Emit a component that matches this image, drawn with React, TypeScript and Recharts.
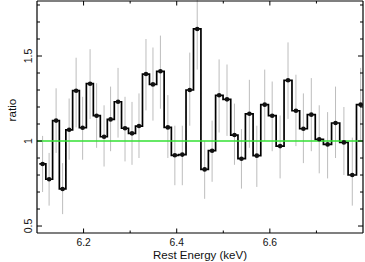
import React from 'react';
import { ComposedChart, Line, Scatter, ErrorBar, XAxis, YAxis, ReferenceLine } from 'recharts';

const energies = [6.112, 6.126, 6.141, 6.155, 6.169, 6.184, 6.198, 6.214, 6.228, 6.244, 6.258, 6.274, 6.289, 6.304, 6.319, 6.334, 6.349, 6.365, 6.381, 6.396, 6.412, 6.428, 6.444, 6.46, 6.476, 6.491, 6.508, 6.524, 6.539, 6.556, 6.572, 6.589, 6.605, 6.622, 6.639, 6.656, 6.672, 6.689, 6.706, 6.724, 6.741, 6.759, 6.777, 6.795];
const ratios = [0.865, 0.775, 1.12, 0.718, 1.066, 1.296, 1.078, 1.337, 1.149, 1.025, 1.127, 1.231, 1.075, 1.045, 1.088, 1.394, 1.333, 1.41, 1.08, 0.916, 0.92, 1.3, 1.659, 0.833, 0.943, 1.269, 1.245, 1.035, 0.896, 1.16, 0.914, 1.214, 1.149, 0.97, 1.357, 1.178, 1.072, 1.155, 1.01, 0.98, 1.106, 0.992, 0.8, 1.214];
const errLow = [0.7, 0.62, 0.93, 0.57, 0.89, 1.08, 0.89, 1.13, 0.96, 0.85, 0.94, 1.02, 0.88, 0.86, 0.9, 1.18, 1.12, 1.19, 0.9, 0.74, 0.74, 1.09, 1.42, 0.66, 0.76, 1.05, 1.03, 0.86, 0.72, 0.96, 0.73, 1.0, 0.94, 0.78, 1.13, 0.97, 0.87, 0.94, 0.81, 0.78, 0.9, 0.8, 0.62, 1.0];
const errHigh = [1.03, 0.93, 1.31, 0.87, 1.25, 1.49, 1.26, 1.54, 1.34, 1.21, 1.32, 1.43, 1.26, 1.23, 1.28, 1.6, 1.55, 1.62, 1.27, 1.09, 1.09, 1.52, 1.83, 1.0, 1.12, 1.48, 1.45, 1.22, 1.07, 1.36, 1.09, 1.42, 1.35, 1.15, 1.58, 1.39, 1.28, 1.37, 1.21, 1.17, 1.32, 1.2, 1.02, 1.43];

const xTicks = [6.2, 6.3, 6.4, 6.5, 6.6, 6.7];
const xTickLabels = ['6.2', '', '6.4', '', '6.6', ''];
const yTicks = [0.5, 0.6, 0.7, 0.8, 0.9, 1.0, 1.1, 1.2, 1.3, 1.4, 1.5, 1.6, 1.7, 1.8];
const yTickLabels = ['0.5', '', '', '', '', '1', '', '', '', '', '1.5', '', '', ''];
const xDomain = [6.1, 6.8];
const yDomain = [0.459, 1.8235];
const xTitle = 'Rest Energy (keV)';
const yTitle = 'ratio';

const FONT = '"Liberation Sans", Arial, Helvetica, sans-serif';

const points = energies.map((x, i) => ({
  x,
  y: ratios[i],
  err: [ratios[i] - errLow[i], errHigh[i] - ratios[i]],
}));

const n = energies.length;
const stepData = [
  { x: energies[0] - (energies[1] - energies[0]) / 2, y: ratios[0] },
  ...energies.map((x, i) => ({ x, y: ratios[i] })),
  { x: energies[n - 1] + (energies[n - 1] - energies[n - 2]) / 2, y: ratios[n - 1] },
];

const findIdx = (arr: number[], v: number) => arr.findIndex((t) => Math.abs(t - v) < 1e-6);

const BottomTick = (props: any) => {
  const { x, y, payload } = props;
  const i = findIdx(xTicks, payload.value);
  const label = i >= 0 ? xTickLabels[i] : '';
  const major = label !== '';
  return (
    <g>
      <line x1={x} x2={x} y1={y} y2={y - (major ? 4.5 : 2.5)} stroke="#000" strokeWidth={1} />
      {major && (
        <text x={x} y={y + 13} textAnchor="middle" fontSize={10.3} fontFamily={FONT} fill="#111">
          {label}
        </text>
      )}
    </g>
  );
};

const TopTick = (props: any) => {
  const { x, y, payload } = props;
  const i = findIdx(xTicks, payload.value);
  const major = i >= 0 && xTickLabels[i] !== '';
  return <line x1={x} x2={x} y1={y} y2={y + (major ? 4.5 : 2.5)} stroke="#000" strokeWidth={1} />;
};

const LeftTick = (props: any) => {
  const { x, y, payload } = props;
  const i = findIdx(yTicks, payload.value);
  const label = i >= 0 ? yTickLabels[i] : '';
  const major = label !== '';
  return (
    <g>
      <line x1={x} x2={x + (major ? 5 : 3)} y1={y} y2={y} stroke="#000" strokeWidth={1} />
      {major && (
        <text
          x={x - 5}
          y={y}
          transform={`rotate(-90 ${x - 5} ${y})`}
          textAnchor="middle"
          fontSize={10.5}
          fontFamily={FONT}
          fill="#111"
        >
          {label}
        </text>
      )}
    </g>
  );
};

const RightTick = (props: any) => {
  const { x, y, payload } = props;
  const i = findIdx(yTicks, payload.value);
  const major = i >= 0 && yTickLabels[i] !== '';
  return <line x1={x} x2={x - (major ? 5 : 3)} y1={y} y2={y} stroke="#000" strokeWidth={1} />;
};

const Dot = (p: any) => <circle cx={p.cx} cy={p.cy} r={2.3} fill="#111" />;
const NoShape = () => <g />;

export default function App() {
  return (
    <div style={{ position: 'absolute', left: 0, top: 0, width: 365, height: 262, background: '#fff' }}>
      <ComposedChart width={365} height={262} margin={{ top: 0, right: 0, bottom: 0, left: 0 }}>
        <XAxis
          xAxisId="b"
          dataKey="x"
          type="number"
          domain={xDomain}
          allowDataOverflow
          ticks={xTicks}
          interval={0}
          tickSize={0}
          tickMargin={0}
          tickLine={false}
          tick={<BottomTick />}
          axisLine={{ stroke: '#000', strokeWidth: 1.2 }}
          height={29}
          orientation="bottom"
          label={{
            content: () => (
              <text x={200} y={259} textAnchor="middle" fontSize={11.5} fontFamily={FONT} fill="#111">
                {xTitle}
              </text>
            ),
          }}
        />
        <XAxis
          xAxisId="t"
          dataKey="x"
          type="number"
          domain={xDomain}
          allowDataOverflow
          ticks={xTicks}
          interval={0}
          tickSize={0}
          tickMargin={0}
          tickLine={false}
          tick={<TopTick />}
          axisLine={{ stroke: '#000', strokeWidth: 1.2 }}
          height={1}
          orientation="top"
        />
        <YAxis
          yAxisId="l"
          type="number"
          domain={yDomain}
          allowDataOverflow
          ticks={yTicks}
          interval={0}
          tickSize={0}
          tickMargin={0}
          tickLine={false}
          tick={<LeftTick />}
          axisLine={{ stroke: '#000', strokeWidth: 1.2 }}
          width={37}
          orientation="left"
          label={{
            content: () => (
              <text
                x={16}
                y={110}
                transform="rotate(-90 16 110)"
                textAnchor="middle"
                fontSize={11.7}
                fontFamily={FONT}
                fill="#111"
              >
                {yTitle}
              </text>
            ),
          }}
        />
        <YAxis
          yAxisId="r"
          type="number"
          domain={yDomain}
          allowDataOverflow
          ticks={yTicks}
          interval={0}
          tickSize={0}
          tickMargin={0}
          tickLine={false}
          tick={<RightTick />}
          axisLine={{ stroke: '#000', strokeWidth: 1.2 }}
          width={2}
          orientation="right"
        />
        <Scatter
          xAxisId="b"
          yAxisId="l"
          data={points}
          dataKey="y"
          shape={<NoShape />}
          isAnimationActive={false}
        >
          <ErrorBar dataKey="err" direction="y" width={0} stroke="#bdbdbd" strokeWidth={1} isAnimationActive={false} />
        </Scatter>
        <Line
          xAxisId="b"
          yAxisId="l"
          data={stepData}
          dataKey="y"
          type="step"
          stroke="#000"
          strokeWidth={1.7}
          dot={false}
          activeDot={false}
          isAnimationActive={false}
        />
        <Scatter
          xAxisId="b"
          yAxisId="l"
          data={points}
          dataKey="y"
          shape={<Dot />}
          isAnimationActive={false}
        />
        <ReferenceLine xAxisId="b" yAxisId="l" y={1} stroke="#33e033" strokeWidth={1.6} />
      </ComposedChart>
    </div>
  );
}
